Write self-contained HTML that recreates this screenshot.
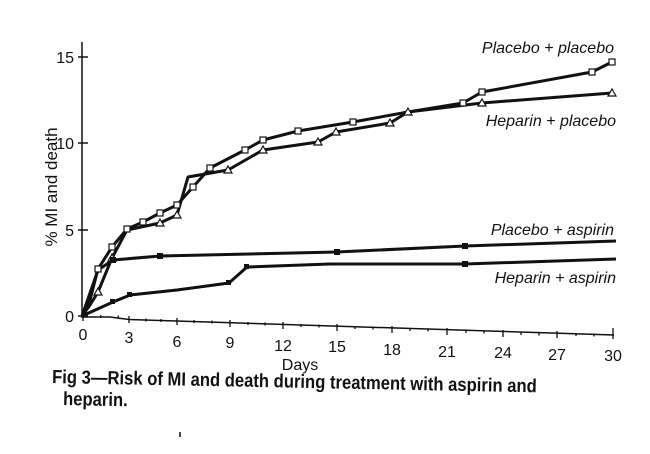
<!DOCTYPE html>
<html><head><meta charset="utf-8"><style>
html,body{margin:0;padding:0;background:#fff;}
svg{display:block;}
text{font-family:"Liberation Sans",sans-serif;fill:#111;}
</style></head><body>
<svg width="650" height="454" viewBox="0 0 650 454" xmlns="http://www.w3.org/2000/svg">
<g stroke="#111" fill="none" stroke-width="1.5">
<line x1="82" y1="42" x2="82" y2="318"/>
<line x1="78" y1="57" x2="88" y2="57"/>
<line x1="78" y1="143" x2="88" y2="143"/>
<line x1="78" y1="230" x2="88" y2="230"/>
<line x1="78" y1="316" x2="88" y2="316"/>
<polyline points="82,317 110,317 129,319.5 614,335"/>
</g>
<g stroke="#111" stroke-width="1.3">
<line x1="83" y1="313" x2="83" y2="321"/>
<line x1="100.7" y1="315" x2="100.7" y2="318"/>
<line x1="118.3" y1="315.5" x2="118.3" y2="318.5"/>
<line x1="129" y1="316" x2="129" y2="323"/>
<line x1="146" y1="318.5" x2="146" y2="321.5"/>
<line x1="161" y1="319" x2="161" y2="322"/>
<line x1="177" y1="318" x2="177" y2="325"/>
<line x1="194" y1="320" x2="194" y2="323"/>
<line x1="212" y1="320.5" x2="212" y2="323.5"/>
<line x1="230" y1="320" x2="230" y2="327"/>
<line x1="248" y1="322" x2="248" y2="325"/>
<line x1="265" y1="322.5" x2="265" y2="325.5"/>
<line x1="283" y1="322" x2="283" y2="329"/>
<line x1="301" y1="324" x2="301" y2="327"/>
<line x1="319" y1="324.5" x2="319" y2="327.5"/>
<line x1="337" y1="324" x2="337" y2="331"/>
<line x1="355" y1="326" x2="355" y2="329"/>
<line x1="373" y1="326.5" x2="373" y2="329.5"/>
<line x1="392" y1="326" x2="392" y2="333"/>
<line x1="410" y1="328" x2="410" y2="331"/>
<line x1="428" y1="328.5" x2="428" y2="331.5"/>
<line x1="447" y1="328" x2="447" y2="335"/>
<line x1="466" y1="330" x2="466" y2="333"/>
<line x1="484" y1="330.5" x2="484" y2="333.5"/>
<line x1="503" y1="330" x2="503" y2="337"/>
<line x1="521" y1="332" x2="521" y2="335"/>
<line x1="539" y1="332.5" x2="539" y2="335.5"/>
<line x1="557" y1="331" x2="557" y2="338"/>
<line x1="576" y1="333" x2="576" y2="336"/>
<line x1="594" y1="333.5" x2="594" y2="336.5"/>
<line x1="613" y1="328" x2="613" y2="339"/>
</g>
<g font-size="16">
<text x="74" y="63" text-anchor="end">15</text>
<text x="74" y="149" text-anchor="end">10</text>
<text x="74" y="236" text-anchor="end">5</text>
<text x="74" y="322" text-anchor="end">0</text>
<text x="83" y="340" text-anchor="middle">0</text>
<text x="129" y="343" text-anchor="middle">3</text>
<text x="177" y="347" text-anchor="middle">6</text>
<text x="230" y="348" text-anchor="middle">9</text>
<text x="283" y="351" text-anchor="middle">12</text>
<text x="337" y="352" text-anchor="middle">15</text>
<text x="392" y="355" text-anchor="middle">18</text>
<text x="447" y="357" text-anchor="middle">21</text>
<text x="503" y="358" text-anchor="middle">24</text>
<text x="557" y="360" text-anchor="middle">27</text>
<text x="613" y="361" text-anchor="middle">30</text>
<text x="300" y="370" text-anchor="middle">Days</text>
<text transform="translate(57,187) rotate(-90)" text-anchor="middle" font-size="17">% MI and death</text>
</g>
<g font-size="16" font-style="italic">
<text x="614" y="53" text-anchor="end">Placebo + placebo</text>
<text x="616" y="126" text-anchor="end">Heparin + placebo</text>
<text x="614" y="235" text-anchor="end">Placebo + aspirin</text>
<text x="616" y="283" text-anchor="end">Heparin + aspirin</text>
</g>
<g stroke="#111" fill="none" stroke-width="3" stroke-linejoin="round">
<polyline points="82,316 90,300 98,269 112,247 127,229 143,222 160,213 177,205 193,187 210,168 245,150 263,140 298,131 353,122 408,112 463,103 482,92 592,72 612,62"/>
<polyline points="82,316 90,305 98,292 112,258 127,230 160,223 177,215 188,177 228,170 263,150 318,142 336,132 390,123 408,112 482,103 612,93"/>
<polyline points="82,316 98,270 113,260 160,256 337,252 465,246 616,241"/>
<polyline points="82,316 113,302 130,295 177,290 229,283 247,267 330,264 465,264 616,259"/>
</g>
<g fill="#fff" stroke="#111" stroke-width="1.2">
<rect x="95" y="266" width="6" height="6"/><rect x="109" y="244" width="6" height="6"/><rect x="124" y="226" width="6" height="6"/><rect x="140" y="219" width="6" height="6"/><rect x="157" y="210" width="6" height="6"/><rect x="174" y="202" width="6" height="6"/><rect x="190" y="184" width="6" height="6"/><rect x="207" y="165" width="6" height="6"/><rect x="242" y="147" width="6" height="6"/><rect x="260" y="137" width="6" height="6"/><rect x="295" y="128" width="6" height="6"/><rect x="350" y="119" width="6" height="6"/><rect x="460" y="100" width="6" height="6"/><rect x="479" y="89" width="6" height="6"/><rect x="589" y="69" width="6" height="6"/><rect x="609" y="59" width="6" height="6"/>
<polygon points="98,288 102,295 94,295"/><polygon points="112,254 116,261 108,261"/><polygon points="160,219 164,226 156,226"/><polygon points="177,211 181,218 173,218"/><polygon points="228,166 232,173 224,173"/><polygon points="263,146 267,153 259,153"/><polygon points="318,138 322,145 314,145"/><polygon points="336,128 340,135 332,135"/><polygon points="390,119 394,126 386,126"/><polygon points="408,108 412,115 404,115"/><polygon points="482,99 486,106 478,106"/><polygon points="612,89 616,96 608,96"/>
</g>
<g fill="#111">
<rect x="110" y="257" width="6" height="6"/><rect x="157" y="253" width="6" height="6"/><rect x="334" y="249" width="6" height="6"/><rect x="462" y="243" width="6" height="6"/>
<rect x="110" y="299" width="5" height="5"/><rect x="127" y="292" width="5" height="5"/><rect x="226" y="280" width="5" height="5"/><rect x="244" y="264" width="5" height="5"/><rect x="462" y="261" width="6" height="6"/>
</g>
<g font-weight="bold" font-size="19">
<text transform="translate(52,383) rotate(1.1) scale(0.875,1)">Fig 3—Risk of MI and death during treatment with aspirin and</text>
<text transform="translate(63,405) rotate(1.1) scale(0.875,1)">heparin.</text>
</g>
<line x1="180" y1="432" x2="180" y2="437" stroke="#111" stroke-width="1.5"/>
</svg>
</body></html>
